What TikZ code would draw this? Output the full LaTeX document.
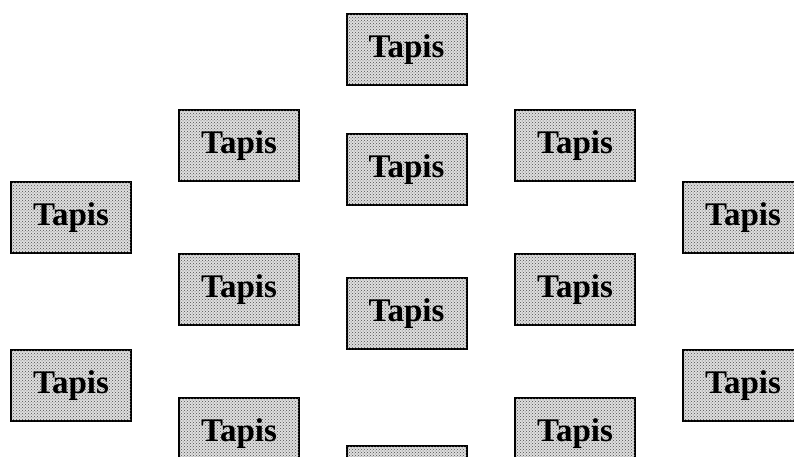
\documentclass[tikz,border=0pt]{standalone}
\usepackage{fontspec}
\setmainfont{Liberation Serif}
\usetikzlibrary{patterns}
\begin{document}
\begin{tikzpicture}[x=1pt,y=-1pt,
  tapis/.style={draw=black, line width=2pt, fill=gray!25,
    postaction={pattern=crosshatch dots, pattern color=black!70},
    minimum width=120pt, minimum height=71pt, inner sep=0pt,
    font=\fontsize{33}{33}\selectfont\bfseries}]
\fill[white] (0,0) rectangle (794,457);
\useasboundingbox (0,0) rectangle (794,457);
\clip (0,0) rectangle (794,457);
% centre column
\node[tapis] (c1) at (406.5,49.5) {Tapis};
\node[tapis] (c2) at (406.5,169.5) {Tapis};
\node[tapis] (c3) at (406.5,313.5) {Tapis};
\node[tapis] (c4) at (406.5,481.5) {Tapis};
% inner columns
\node[tapis] (l1) at (239,145.5) {Tapis};
\node[tapis] (l2) at (239,289.5) {Tapis};
\node[tapis] (l3) at (239,433.5) {Tapis};
\node[tapis] (r1) at (575,145.5) {Tapis};
\node[tapis] (r2) at (575,289.5) {Tapis};
\node[tapis] (r3) at (575,433.5) {Tapis};
% outer columns
\node[tapis] (ll1) at (71,217.5) {Tapis};
\node[tapis] (ll2) at (71,385.5) {Tapis};
\node[tapis] (rr1) at (743,217.5) {Tapis};
\node[tapis] (rr2) at (743,385.5) {Tapis};
\end{tikzpicture}
\end{document}
